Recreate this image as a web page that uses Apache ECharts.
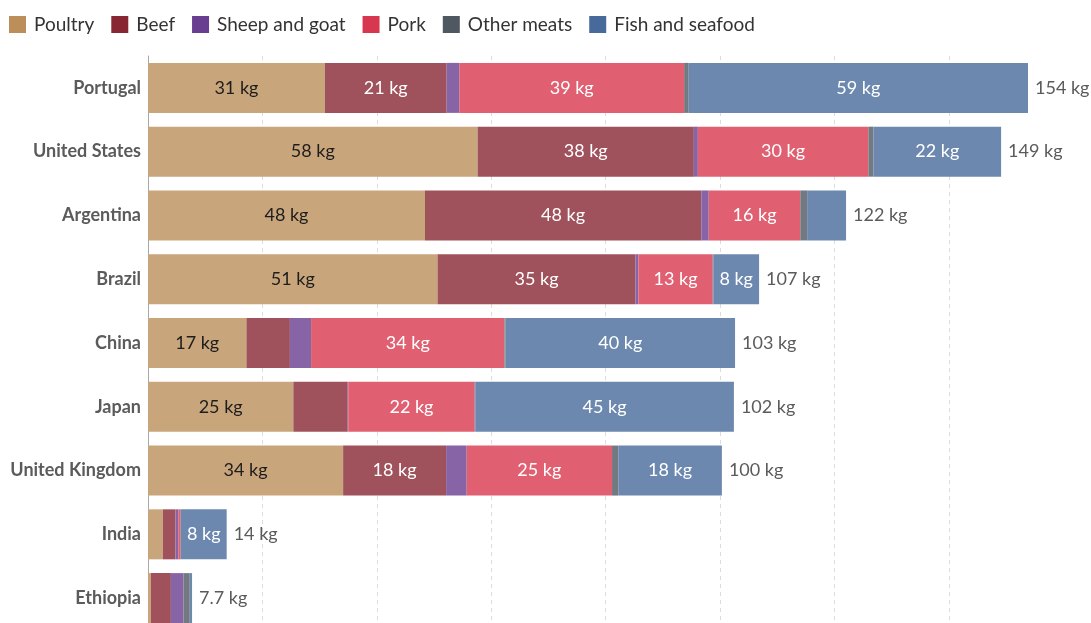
<!DOCTYPE html>
<html>
<head>
<meta charset="utf-8">
<script src="https://cdn.jsdelivr.net/npm/echarts@6/dist/echarts.min.js"></script>
<style>
  html, body { margin: 0; padding: 0; background: #fff; overflow: hidden; }
  #main { width: 1091px; height: 632px; }
</style>
</head>
<body>
<div id="main"></div>
<script>
// kg per person per year
var countries = ['Portugal', 'United States', 'Argentina', 'Brazil', 'China', 'Japan', 'United Kingdom', 'India', 'Ethiopia'];
var poultry    = [30.9, 57.6, 48.4, 50.6, 17.2, 25.4, 34.1, 2.6, 0.5];
var beef       = [21.3, 37.8, 48.3, 34.6, 7.6, 9.5, 18.0, 2.2, 3.5];
var sheepGoat  = [2.2, 0.7, 1.3, 0.5, 3.7, 0.1, 3.6, 0.5, 2.2];
var pork       = [39.3, 29.8, 16.0, 13.0, 33.8, 22.1, 25.4, 0.4, 0];
var otherMeats = [0.8, 0.9, 1.2, 0.1, 0.2, 0.1, 1.1, 0.05, 1.1];
var fish       = [59.3, 22.3, 6.8, 8.0, 40.1, 45.2, 18.1, 8.0, 0.4];

var seriesNames = ['Poultry', 'Beef', 'Sheep and goat', 'Pork', 'Other meats', 'Fish and seafood'];
var seriesData = [poultry, beef, sheepGoat, pork, otherMeats, fish];
var colors = ['#BC8E5A', '#882733', '#693D90', '#D8384F', '#4F5761', '#476A9B'];
var labelColors = ['#1d1d1d', '#fff', '#fff', '#fff', '#fff', '#fff'];

var totals = countries.map(function (c, i) {
  var s = 0;
  seriesData.forEach(function (d) { s += d[i]; });
  return s;
});
var maxTotal = Math.max.apply(null, totals);

var gridWidth = 880;
var pxPerKg = gridWidth / maxTotal;

function fmt(v) {
  if (v >= 10) return String(Math.round(v));
  return String(parseFloat(v.toPrecision(2)));
}

// lighten like a 0.8 opacity bar over white
function blend(hex) {
  var n = parseInt(hex.slice(1), 16);
  var r = (n >> 16) & 255, g = (n >> 8) & 255, b = n & 255;
  var f = function (c) { return Math.round(c * 0.8 + 255 * 0.2); };
  return 'rgb(' + f(r) + ',' + f(g) + ',' + f(b) + ')';
}

var ctx = document.createElement('canvas').getContext('2d');
ctx.font = '18px Lato';
function fits(v) {
  var w = ctx.measureText(fmt(v) + ' kg').width;
  return w + 10 <= v * pxPerKg;
}

var series = seriesNames.map(function (name, k) {
  return {
    name: name,
    type: 'bar',
    stack: 'all',
    barWidth: 50,
    data: seriesData[k],
    itemStyle: { color: blend(colors[k]) },
    label: {
      show: true,
      position: 'inside',
      fontFamily: 'Lato',
      fontSize: 18,
      color: labelColors[k],
      formatter: function (p) {
        return fits(p.value) ? fmt(p.value) + ' kg' : '';
      }
    }
  };
});

series.push({
  name: 'Total',
  type: 'bar',
  stack: 'all',
  barWidth: 50,
  silent: true,
  data: countries.map(function () { return 0; }),
  itemStyle: { color: 'transparent' },
  label: {
    show: true,
    position: 'right',
    distance: 7,
    fontFamily: 'Lato',
    fontSize: 18,
    color: '#5b5b5b',
    formatter: function (p) { return fmt(totals[p.dataIndex]) + ' kg'; }
  }
});

var chart = echarts.init(document.getElementById('main'));
chart.setOption({
  backgroundColor: '#fff',
  animation: false,
  legend: {
    left: 4,
    top: 10,
    icon: 'rect',
    itemWidth: 17,
    itemHeight: 17,
    itemGap: 17,
    textStyle: { fontFamily: 'Lato', fontSize: 19, color: '#333', padding: [0, 0, 0, 3] },
    data: seriesNames.map(function (n, k) {
      return { name: n, itemStyle: { color: colors[k] } };
    })
  },
  grid: { left: 148, top: 56, width: gridWidth, height: 574 },
  xAxis: {
    type: 'value',
    min: 0,
    max: maxTotal,
    interval: 20,
    axisLabel: { show: false },
    axisLine: { show: false },
    axisTick: { show: false },
    splitLine: {
      show: true,
      showMaxLine: false,
      lineStyle: { type: [4, 4], color: '#dcdcdc' }
    }
  },
  yAxis: {
    type: 'category',
    inverse: true,
    data: countries,
    axisLine: { show: true, lineStyle: { color: '#a8a8a8' } },
    axisTick: { show: false },
    axisLabel: { fontFamily: 'Lato', fontSize: 18, fontWeight: 'bold', color: '#5b5b5b', margin: 7 }
  },
  series: series
});
</script>
</body>
</html>
